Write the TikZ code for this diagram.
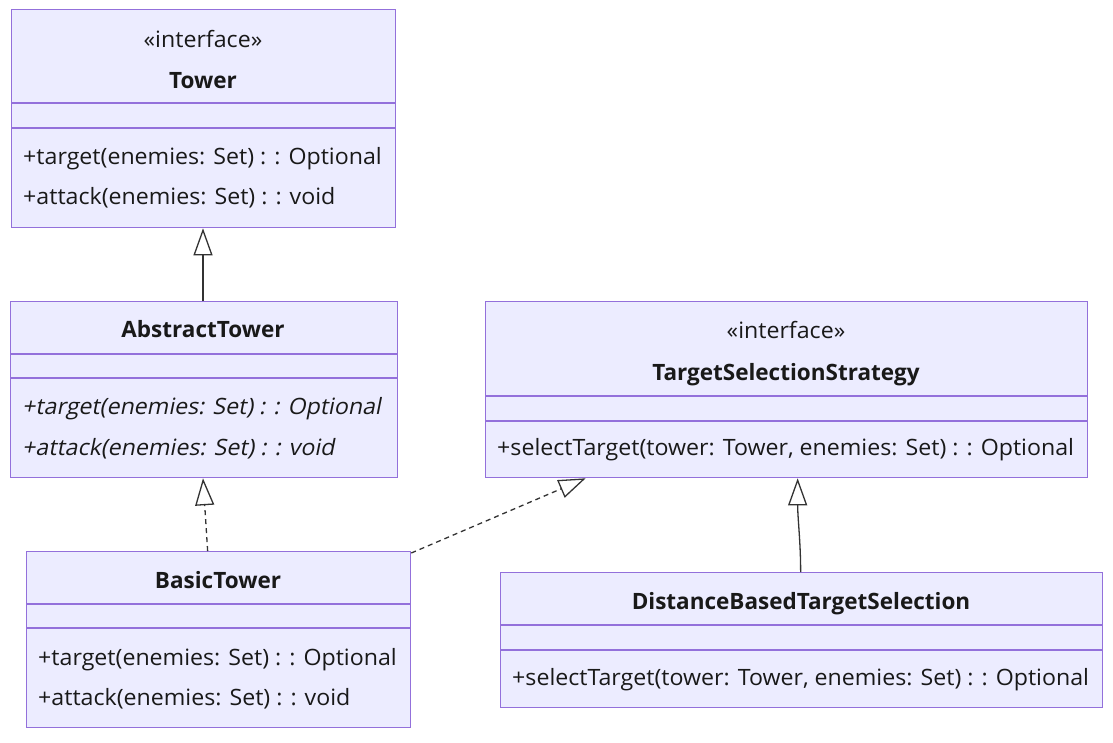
\documentclass[tikz,border=0pt]{standalone}
\usepackage{fontspec}
\setmainfont{Open Sans}
\newfontfamily\regf[FakeStretch=1.03]{Open Sans}
\newfontfamily\oblf[FakeStretch=1.03,FakeSlant=0.2]{Open Sans}
\usetikzlibrary{arrows.meta}
\definecolor{boxfill}{HTML}{ECECFF}
\definecolor{boxline}{HTML}{9370DB}
\definecolor{edge}{HTML}{333333}
\tikzset{
  umlbox/.style={draw=boxline, fill=boxfill, line width=1.3pt, rectangle, inner sep=0pt, anchor=north west},
  divider/.style={draw=boxline, line width=1.3pt},
  txt/.style={inner sep=0pt, font=\regf\fontsize{22.5}{26}\selectfont, text=black!90},
  ttl/.style={txt, font=\rmfamily\fontsize{22.5}{26}\selectfont\bfseries},
  mth/.style={txt, anchor=base west},
  imth/.style={mth, font=\oblf\fontsize{22.5}{26}\selectfont},
  gen/.style={draw=edge, line width=1.3pt, -{Triangle[open, length=27pt, width=19pt]}},
  real/.style={gen, dash pattern=on 5pt off 4pt},
}
\begin{document}
\begin{tikzpicture}[x=1pt, y=-1pt]
\useasboundingbox[fill=white] (0,0) rectangle (1113,742);
% Tower
\node[umlbox, minimum width=384pt, minimum height=218pt] (tower) at (11,9) {};
\draw[divider] (11,103) -- (395,103) (11,128) -- (395,128);
\node[txt, anchor=base] (towerst) at (203,47) {«interface»};
\node[ttl, anchor=base] (towern) at (203,88) {Tower};
\node[mth] (towerm1) at (23,164) {+target(enemies: Set) : : Optional};
\node[mth] (towerm2) at (23,204) {+attack(enemies: Set) : : void};
% AbstractTower
\node[umlbox, minimum width=387pt, minimum height=176pt] (abs) at (10,301) {};
\draw[divider] (10,354) -- (397,354) (10,378) -- (397,378);
\node[ttl, anchor=base] (absn) at (203,337) {AbstractTower};
\node[imth] (absm1) at (22,414) {+target(enemies: Set) : : Optional};
\node[imth] (absm2) at (22,455) {+attack(enemies: Set) : : void};
% TargetSelectionStrategy
\node[umlbox, minimum width=602pt, minimum height=176pt] (tss) at (485,301) {};
\draw[divider] (485,396) -- (1087,396) (485,421) -- (1087,421);
\node[txt, anchor=base] (tssst) at (786,338) {«interface»};
\node[ttl, anchor=base] (tssn) at (786,380) {TargetSelectionStrategy};
\node[mth] (tssm1) at (497,455) {+selectTarget(tower: Tower, enemies: Set) : : Optional};
% BasicTower
\node[umlbox, minimum width=384pt, minimum height=176pt] (basic) at (26,551) {};
\draw[divider] (26,604) -- (410,604) (26,628) -- (410,628);
\node[ttl, anchor=base] (basicn) at (218,588) {BasicTower};
\node[mth] (basicm1) at (38,665) {+target(enemies: Set) : : Optional};
\node[mth] (basicm2) at (38,705) {+attack(enemies: Set) : : void};
% DistanceBasedTargetSelection
\node[umlbox, minimum width=602pt, minimum height=135pt] (dist) at (500,572) {};
\draw[divider] (500,625) -- (1102,625) (500,650) -- (1102,650);
\node[ttl, anchor=base] (distn) at (801,609) {DistanceBasedTargetSelection};
\node[mth] (distm1) at (512,685) {+selectTarget(tower: Tower, enemies: Set) : : Optional};
% connectors
\draw[gen] (abs.north -| towern) -- (tower.south -| towern);
\draw[real] ([xshift=-11pt]basic.north) -- (abs.south -| absn);
\draw[real] ([yshift=-2pt]basic.north east) -- ([xshift=-201pt]tss.south);
\draw[gen] ([xshift=-1pt]dist.north) .. controls ([xshift=-1pt,yshift=30pt]dist.north) and ([xshift=11pt,yshift=-40pt]tss.south) .. ([xshift=11pt]tss.south);
\end{tikzpicture}
\end{document}
